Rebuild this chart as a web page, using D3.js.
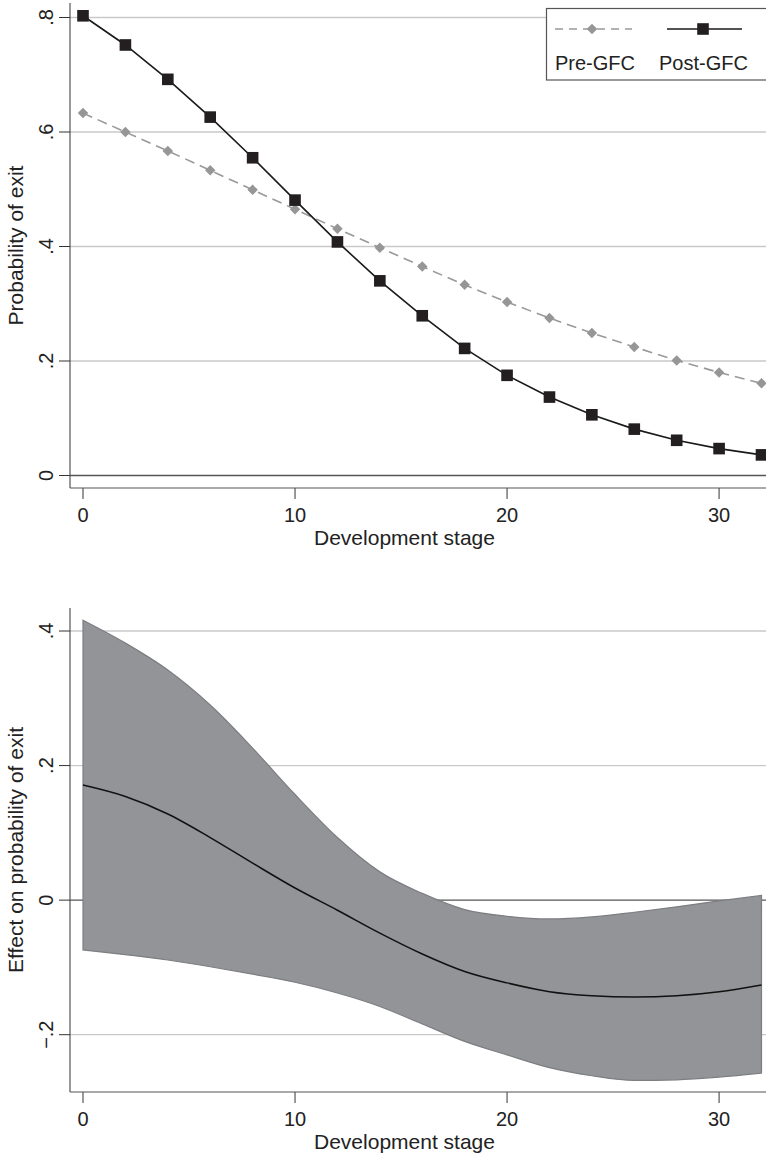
<!DOCTYPE html>
<html>
<head>
<meta charset="utf-8">
<script src="https://cdn.jsdelivr.net/npm/d3@7"></script>
<style>
  body { margin: 0; background: #fff; }
  svg text { font-family: "Liberation Sans", Arial, sans-serif; fill: #222; }
</style>
</head>
<body>
<div id="content"></div>
<script>
// development stage (x) for both panels
const stages = [0, 2, 4, 6, 8, 10, 12, 14, 16, 18, 20, 22, 24, 26, 28, 30, 32];

// top panel: predicted probability of exit
const preGFC  = [0.633, 0.600, 0.567, 0.533, 0.499, 0.465, 0.431, 0.398, 0.365, 0.333, 0.303, 0.275, 0.249, 0.2245, 0.201, 0.180, 0.161];
const postGFC = [0.803, 0.752, 0.692, 0.626, 0.555, 0.481, 0.408, 0.340, 0.279, 0.222, 0.175, 0.137, 0.106, 0.081, 0.0615, 0.047, 0.036];

// bottom panel: effect on probability of exit with confidence band
const effect  = [0.171, 0.154, 0.128, 0.093, 0.055, 0.018, -0.015, -0.049, -0.080, -0.106, -0.123, -0.136, -0.142, -0.144, -0.142, -0.136, -0.126];
const ciUpper = [0.416, 0.382, 0.342, 0.290, 0.226, 0.157, 0.093, 0.042, 0.010, -0.014, -0.024, -0.028, -0.025, -0.018, -0.010, -0.001, 0.007];
const ciLower = [-0.074, -0.081, -0.089, -0.099, -0.110, -0.122, -0.138, -0.158, -0.184, -0.210, -0.230, -0.249, -0.261, -0.268, -0.267, -0.263, -0.257];

const xTicks = [0, 10, 20, 30];
const yTicksTop = [0, 0.2, 0.4, 0.6, 0.8];
const yTicksBottom = [-0.2, 0, 0.2, 0.4];
const legendLabels = ["Pre-GFC", "Post-GFC"];

const fmt = v => v === 0 ? "0" : (v < 0 ? "\u2212" : "") + String(Math.abs(v)).replace(/^0/, "");

const W = 766, H = 1157;
const svg = d3.select("#content").append("svg").attr("width", W).attr("height", H);

const x = d3.scaleLinear().domain([0, 32]).range([83, 761.5]);
const axisLeftX = 70, axisRightX = 766;
const tickSize = 20, titleSize = 21;

function drawFrame(y, yTicks, top, bottom, yTitle, zeroLine) {
  const g = svg.append("g");
  // gridlines
  g.selectAll("line.grid").data(yTicks.filter(d => d !== 0)).enter().append("line")
    .attr("x1", axisLeftX).attr("x2", axisRightX)
    .attr("y1", d => y(d)).attr("y2", d => y(d))
    .attr("stroke", "#c9c9c9").attr("stroke-width", 1.3);
  if (zeroLine) {
    g.append("line").attr("x1", axisLeftX).attr("x2", axisRightX)
      .attr("y1", y(0)).attr("y2", y(0))
      .attr("stroke", "#555").attr("stroke-width", 1.4);
  }
  // y axis
  g.append("line").attr("x1", axisLeftX).attr("x2", axisLeftX).attr("y1", top).attr("y2", bottom)
    .attr("stroke", "#555").attr("stroke-width", 1.2);
  g.selectAll("line.ytick").data(yTicks).enter().append("line")
    .attr("x1", axisLeftX - 11).attr("x2", axisLeftX)
    .attr("y1", d => y(d)).attr("y2", d => y(d))
    .attr("stroke", "#333").attr("stroke-width", 1);
  g.selectAll("text.ylab").data(yTicks).enter().append("text")
    .attr("transform", d => `translate(53,${y(d)}) rotate(-90)`)
    .attr("text-anchor", "middle").attr("font-size", tickSize)
    .text(fmt);
  g.append("text")
    .attr("transform", `translate(23,${(top + bottom) / 2}) rotate(-90)`)
    .attr("text-anchor", "middle").attr("font-size", titleSize)
    .text(yTitle);
  // x axis
  g.append("line").attr("x1", axisLeftX).attr("x2", axisRightX).attr("y1", bottom).attr("y2", bottom)
    .attr("stroke", "#555").attr("stroke-width", 1.2);
  g.selectAll("line.xtick").data(xTicks).enter().append("line")
    .attr("x1", d => x(d)).attr("x2", d => x(d))
    .attr("y1", bottom).attr("y2", bottom + 11)
    .attr("stroke", "#555").attr("stroke-width", 1.2);
  g.selectAll("text.xlab").data(xTicks).enter().append("text")
    .attr("x", d => x(d)).attr("y", bottom + 33.5)
    .attr("text-anchor", "middle").attr("font-size", tickSize)
    .text(d => d);
  g.append("text").attr("x", 404.5).attr("y", bottom + 57)
    .attr("text-anchor", "middle").attr("font-size", titleSize)
    .text("Development stage");
  return g;
}

// ---------- top panel ----------
const yTop = d3.scaleLinear().domain([0, 0.8]).range([475.5, 17.5]);
drawFrame(yTop, yTicksTop, 3, 488, "Probability of exit", true);

const lineTop = d3.line().x((d, i) => x(stages[i])).y(d => yTop(d));
const diamond = d3.symbol().type(d3.symbolDiamond2).size(70);
const square = d3.symbol().type(d3.symbolSquare).size(135);

svg.append("path").datum(preGFC).attr("d", lineTop)
  .attr("fill", "none").attr("stroke", "#999").attr("stroke-width", 1.6)
  .attr("stroke-dasharray", "10,6");
svg.selectAll("path.pre").data(preGFC).enter().append("path")
  .attr("transform", (d, i) => `translate(${x(stages[i])},${yTop(d)})`)
  .attr("d", diamond).attr("fill", "#969696");

svg.append("path").datum(postGFC).attr("d", lineTop)
  .attr("fill", "none").attr("stroke", "#1a1a1a").attr("stroke-width", 1.6);
svg.selectAll("path.post").data(postGFC).enter().append("path")
  .attr("transform", (d, i) => `translate(${x(stages[i])},${yTop(d)})`)
  .attr("d", square).attr("fill", "#231f20");

// legend
const lg = svg.append("g");
lg.append("rect").attr("x", 546.5).attr("y", 8.5).attr("width", 240).attr("height", 71.5)
  .attr("fill", "#fff").attr("stroke", "#555").attr("stroke-width", 1.2);
lg.append("line").attr("x1", 555).attr("x2", 632).attr("y1", 29).attr("y2", 29)
  .attr("stroke", "#999").attr("stroke-width", 1.6).attr("stroke-dasharray", "8,6");
lg.append("path").attr("transform", "translate(592,29)").attr("d", diamond).attr("fill", "#969696");
lg.append("line").attr("x1", 667).attr("x2", 742).attr("y1", 29).attr("y2", 29)
  .attr("stroke", "#1a1a1a").attr("stroke-width", 1.6);
lg.append("path").attr("transform", "translate(703,29)").attr("d", square).attr("fill", "#231f20");
lg.selectAll("text.leg").data(legendLabels).enter().append("text")
  .attr("x", (d, i) => i === 0 ? 555 : 659).attr("y", 70)
  .attr("font-size", tickSize).text(d => d);

// ---------- bottom panel ----------
const yBot = d3.scaleLinear().domain([-0.2, 0.4]).range([1034.7, 631]);
drawFrame(yBot, yTicksBottom, 608, 1092, "Effect on probability of exit", true);

const band = d3.area()
  .x((d, i) => x(stages[i]))
  .y0((d, i) => yBot(ciLower[i]))
  .y1(d => yBot(d))
  .curve(d3.curveMonotoneX);
svg.append("path").datum(ciUpper).attr("d", band)
  .attr("fill", "#939498").attr("stroke", "#7d7e82").attr("stroke-width", 1.2);

const effLine = d3.line().x((d, i) => x(stages[i])).y(d => yBot(d)).curve(d3.curveMonotoneX);
svg.append("path").datum(effect).attr("d", effLine)
  .attr("fill", "none").attr("stroke", "#111").attr("stroke-width", 1.5);
</script>
</body>
</html>
